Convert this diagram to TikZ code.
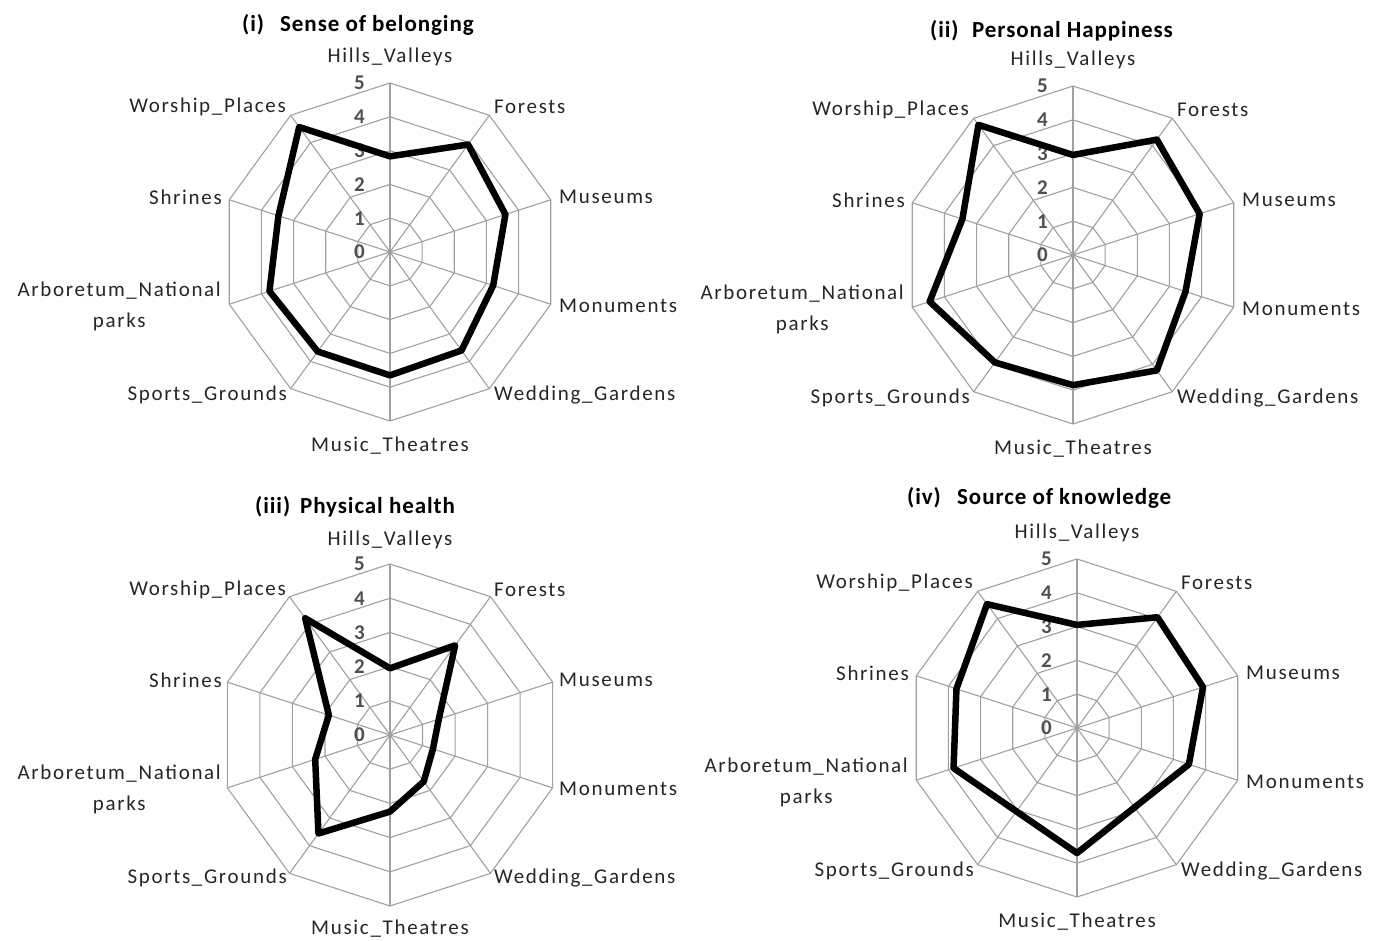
\documentclass[tikz,border=0pt]{standalone}
\usepackage{fontspec}
\setmainfont{Carlito}
\newfontfamily\spacedfont[LetterSpace=8]{Carlito}
\newfontfamily\headfont[LetterSpace=4]{Carlito}
\definecolor{gridgray}{HTML}{A0A0A0}
\definecolor{labelink}{HTML}{262626}
\definecolor{tickink}{HTML}{505050}
\tikzset{
  gridline/.style={draw=gridgray, line width=1.1pt},
  seriesline/.style={draw=black, line width=6.5pt, line join=round},
  axislabel/.style={font=\spacedfont\fontsize{21}{31}\selectfont, text=labelink, inner sep=0pt, align=center},
  ticklabel/.style={font=\bfseries\fontsize{21}{24}\selectfont, text=tickink, inner sep=0pt, anchor=east},
  headlabel/.style={font=\headfont\bfseries\fontsize{23}{26}\selectfont, text=black, inner sep=0pt, anchor=west},
}
% #1 name, #2 centre x, #3 centre y, #4 outer radius, #5 ten scores (clockwise from the top)
\newcommand\spiderchart[5]{%
  \begin{scope}[shift={(#2,#3)}]
    \foreach \k in {0,...,9}
      \coordinate (#1-a\k) at ({#4*sin(36*\k)},{-#4*cos(36*\k)});
    \foreach \k in {0,...,9}
      \draw[gridline] (0,0) -- (#1-a\k);
    \foreach \r in {1,...,5}
      \draw[gridline] (0,{-#4*\r/5})
        \foreach \k in {1,...,9} { -- ({#4*\r/5*sin(36*\k)},{-#4*\r/5*cos(36*\k)}) } -- cycle;
    \foreach \r in {0,...,5}
      \node[ticklabel] (#1-t\r) at (-25,{-#4*\r/5}) {\r};
    \foreach \v [count=\k from 0] in {#5}
      \coordinate (#1-d\k) at ({#4*\v/5*sin(36*\k)},{-#4*\v/5*cos(36*\k)});
    \draw[seriesline] (#1-d0) \foreach \k in {1,...,9} { -- (#1-d\k) } -- cycle;
    \node[axislabel] (#1-hills) at (0,-195) {Hills\_Valleys};
    \node[axislabel, anchor=west] (#1-forests) at (104,-145) {Forests};
    \node[axislabel, anchor=west] (#1-museums) at (169,-55) {Museums};
    \node[axislabel, anchor=west] (#1-monuments) at (169,54) {Monuments};
    \node[axislabel, anchor=west] (#1-wedding) at (104,143) {Wedding\_Gardens};
    \node[axislabel] (#1-music) at (0,194) {Music\_Theatres};
    \node[axislabel, anchor=east] (#1-sports) at (-103,143) {Sports\_Grounds};
    \node[axislabel, anchor=east] (#1-arboretum) at (-169,54) {Arboretum\_National\\parks};
    \node[axislabel, anchor=east] (#1-shrines) at (-168,-55) {Shrines};
    \node[axislabel, anchor=east] (#1-worship) at (-104,-145) {Worship\_Places};
  \end{scope}
}
\begin{document}
\begin{tikzpicture}[x=1pt,y=-1pt]
  \fill[white] (0,0) rectangle (1385,941);
  \useasboundingbox (0,0) rectangle (1385,941);

  \spiderchart{belong}{390}{252}{169}{2.83,3.93,3.59,3.21,3.60,3.65,3.64,3.75,3.47,4.57}
  \spiderchart{happy}{1073}{255}{169}{2.96,4.22,3.94,3.50,4.22,3.85,3.93,4.46,3.44,4.76}
  \spiderchart{health}{390}{735}{171}{1.95,3.24,1.50,1.32,1.68,2.24,3.56,2.30,1.88,4.22}
  \spiderchart{know}{1077}{728}{169}{3.05,4.05,3.92,3.48,2.90,3.70,3.05,3.84,3.75,4.53}

  \node[headlabel] (belong-num) at (242,25) {(i)};
  \node[headlabel] (belong-title) at (280,25) {Sense of belonging};
  \node[headlabel] (happy-num) at (930,31) {(ii)};
  \node[headlabel] (happy-title) at (972,31) {Personal Happiness};
  \node[headlabel] (health-num) at (255,507) {(iii)};
  \node[headlabel] (health-title) at (300,507) {Physical health};
  \node[headlabel] (know-num) at (907,498) {(iv)};
  \node[headlabel] (know-title) at (957,498) {Source of knowledge};
\end{tikzpicture}
\end{document}
